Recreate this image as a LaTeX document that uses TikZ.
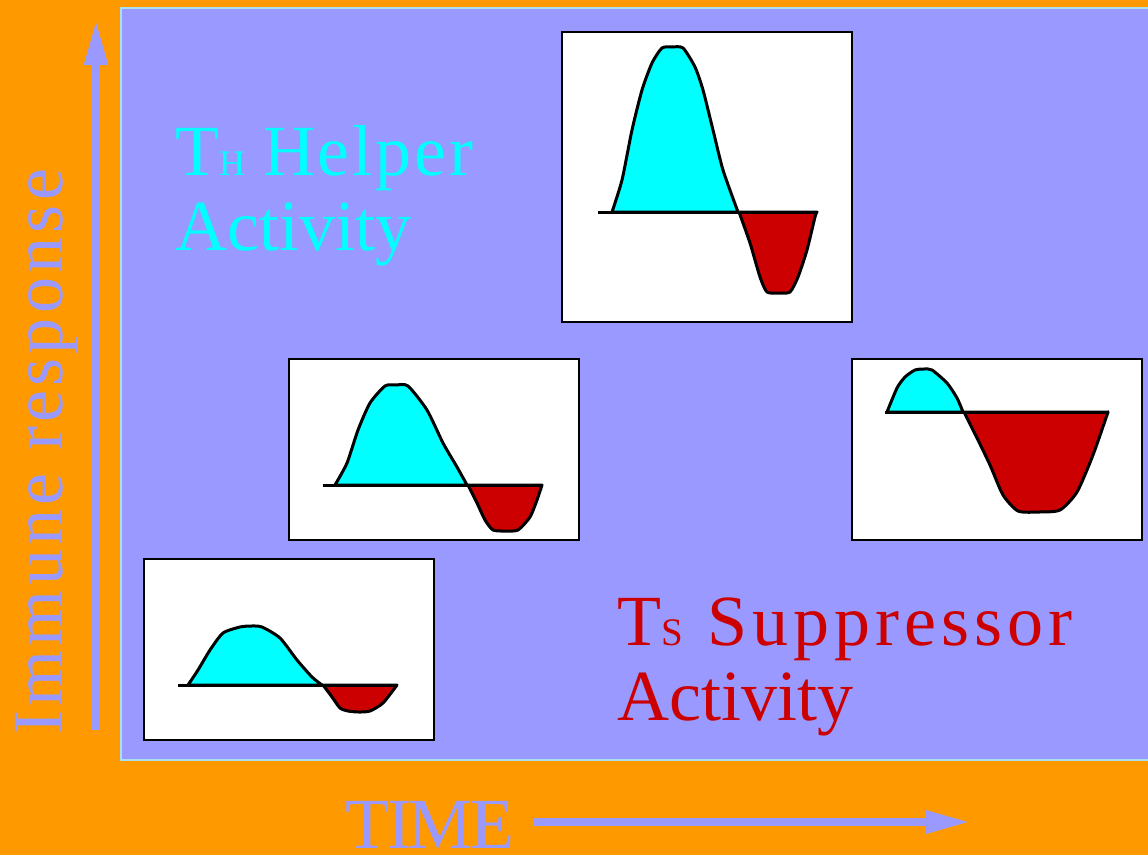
\documentclass[tikz,border=0pt]{standalone}
\usepackage{fontspec}
\setmainfont{Liberation Serif}
\usetikzlibrary{arrows.meta}

\definecolor{bgorange}{HTML}{FF9900}
\definecolor{lavender}{HTML}{9999FF}
\definecolor{paneledge}{HTML}{A8E0F0}
\definecolor{helpcyan}{HTML}{00FFFF}
\definecolor{suppred}{HTML}{CC0000}

\newcommand{\bigfont}{\fontsize{72}{75}\selectfont}
\newcommand{\subcap}[2]{{\fontsize{#1}{#1}\selectfont #2}}

\begin{document}
\begin{tikzpicture}[x=1pt, y=-1pt,
    plotbox/.style={fill=white, draw=black, line width=2.5pt},
    humpfill/.style={fill=helpcyan, draw=black, line width=3pt, line join=round},
    dipfill/.style={fill=suppred, draw=black, line width=3pt, line join=round},
    zeroline/.style={draw=black, line width=3pt},
    axisarrow/.style={draw=lavender, line width=8pt, -{Triangle[length=45pt, width=22pt]}}]

    \useasboundingbox (0,0) rectangle (1148,855);

    % Background and panel
    \fill[bgorange] (0,0) rectangle (1148,855);
    \filldraw[fill=lavender, draw=paneledge, line width=2pt] (121,8) rectangle (1152,760);

    % Axes
    \coordinate (yfoot) at (96,730);
    \coordinate (ytip) at (96,20);
    \coordinate (xfoot) at (533,822);
    \coordinate (xtip) at (970,822);
    \draw[axisarrow] (yfoot) -- (ytip);
    \draw[axisarrow] (xfoot) -- (xtip);

    \node[rotate=90, anchor=base west, inner sep=0pt, text=lavender,
          font=\bigfont\addfontfeatures{LetterSpace=6}] (ylabel) at (62,735) {Immune response};
    \node[anchor=base west, inner sep=0pt, text=lavender,
          font=\bigfont\addfontfeatures{LetterSpace=-3}] (xlabel) at (345,848) {TIME};

    % Labels
    \node[anchor=base west, inner sep=0pt, text=helpcyan, font=\bigfont] (helpT) at (175,175) {T\subcap{36}{H}};
    \node[anchor=base west, inner sep=0pt, text=helpcyan,
          font=\bigfont\addfontfeatures{LetterSpace=4}] (helpword) at (263,175) {Helper};
    \node[anchor=base west, inner sep=0pt, text=helpcyan, font=\bigfont] (helpact) at (175,250) {Activity};

    \node[anchor=base west, inner sep=0pt, text=suppred, font=\bigfont] (suppT) at (617,645) {T\subcap{39}{S}};
    \node[anchor=base west, inner sep=0pt, text=suppred,
          font=\bigfont\addfontfeatures{LetterSpace=7}] (suppword) at (707,645) {Suppressor};
    \node[anchor=base west, inner sep=0pt, text=suppred, font=\bigfont] (suppact) at (617,720) {Activity};

    % Panel 1 (top)
    \draw[plotbox] (562,32) rectangle (852,322);
    \draw[humpfill] plot[smooth, tension=0.4] coordinates {(612,212) (622,180) (632,130) (642,90)
        (652,63) (662,48) (672,47) (683,48) (695,67) (703,90) (713,130) (723,170) (738,212)} -- cycle;
    \draw[dipfill] plot[smooth, tension=0.4] coordinates {(739,212) (750,243) (760,277) (767,292)
        (779,293) (790,292) (798,277) (807,250) (815,217) (817,212)} -- cycle;
    \draw[zeroline] (598,212) -- (817,212);

    % Panel 2 (middle left)
    \draw[plotbox] (289,359) rectangle (579,540);
    \draw[humpfill] plot[smooth, tension=0.4] coordinates {(335,485) (347,463) (358,430) (370,403)
        (385,386) (396,385) (408,386) (427,410) (443,443) (457,467) (467,485)} -- cycle;
    \draw[dipfill] plot[smooth, tension=0.4] coordinates {(468,485) (477,503) (485,520) (493,530)
        (505,531) (518,530) (530,517) (537,500) (542,485)} -- cycle;
    \draw[zeroline] (323,485) -- (543,485);

    % Panel 3 (right)
    \draw[plotbox] (852,359) rectangle (1142,540);
    \draw[humpfill] plot[smooth, tension=0.4] coordinates {(887,412) (897,388) (905,377) (915,370)
        (924,369) (932,370) (947,383) (957,398) (963,412)} -- cycle;
    \draw[dipfill] plot[smooth, tension=0.4] coordinates {(964,412) (977,438) (990,465) (1003,495)
        (1018,511) (1039,512) (1060,510) (1077,492) (1093,455) (1107,415) (1108,412)} -- cycle;
    \draw[zeroline] (885,412) -- (1108,412);

    % Panel 4 (bottom left)
    \draw[plotbox] (144,559) rectangle (434,740);
    \draw[humpfill] plot[smooth, tension=0.4] coordinates {(188,685) (198,670) (210,650) (223,633)
        (240,627) (251,626) (262,627) (280,638) (297,660) (312,677) (322,685)} -- cycle;
    \draw[dipfill] plot[smooth, tension=0.4] coordinates {(323,685) (332,697) (340,708) (348,711)
        (359,712) (370,711) (383,703) (397,685)} -- cycle;
    \draw[zeroline] (178,685) -- (397,685);
\end{tikzpicture}
\end{document}
